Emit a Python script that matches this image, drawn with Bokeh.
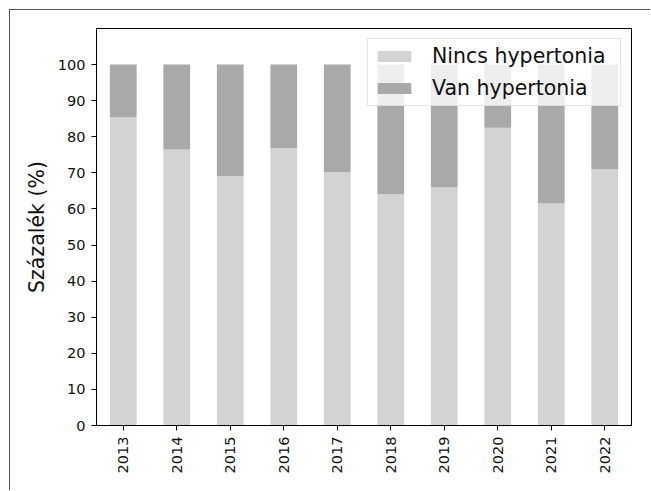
from bokeh.plotting import figure
from bokeh.models import FactorRange, Range1d, FixedTicker, Legend, LegendItem, ColumnDataSource
from bokeh.embed import file_html
from bokeh.resources import INLINE
import math

years = ["2013", "2014", "2015", "2016", "2017", "2018", "2019", "2020", "2021", "2022"]
nincs = [85.4, 76.5, 69.1, 76.8, 70.2, 64.1, 66.0, 82.5, 61.5, 71.1]
van = [14.6, 23.5, 30.9, 23.2, 29.8, 35.9, 34.0, 17.5, 38.5, 28.9]
series_names = ["Nincs hypertonia", "Van hypertonia"]
y_ticks = [0, 10, 20, 30, 40, 50, 60, 70, 80, 90, 100]

FONT = "DejaVu Sans"

source = ColumnDataSource(data=dict(year=years, nincs=nincs, van=van))

p = figure(
    x_range=FactorRange(*years, range_padding=0),
    y_range=Range1d(0, 110),
    width=641, height=481,
    output_backend="svg", toolbar_location=None,
    min_border_left=86, min_border_top=18, min_border_right=20, min_border_bottom=66,
)
p.styles = {"margin-left": "9px", "margin-top": "9px",
            "border-top": "1px solid #555555", "border-left": "1px solid #555555"}

r = p.vbar_stack(["nincs", "van"], x="year", width=0.5, source=source,
                 color=["#d3d3d3", "#a9a9a9"], line_color=None)

p.xgrid.visible = False
p.ygrid.visible = False
p.outline_line_color = "black"
p.outline_line_width = 1

for ax in (p.xaxis[0], p.yaxis[0]):
    ax.axis_line_color = "black"
    ax.major_tick_line_color = "black"
    ax.major_tick_out = 5
    ax.major_tick_in = 0
    ax.minor_tick_line_color = None
    ax.major_label_text_font = FONT
    ax.major_label_text_font_size = "14.5px"
    ax.major_label_text_color = "#111111"
    ax.major_label_standoff = 6

p.xaxis.major_label_orientation = math.pi / 2

p.yaxis.ticker = FixedTicker(ticks=y_ticks)
p.yaxis.axis_label = "Százalék (%)"
p.yaxis.axis_label_text_font = FONT
p.yaxis.axis_label_text_font_size = "20.5px"
p.yaxis.axis_label_text_font_style = "normal"
p.yaxis.axis_label_text_color = "#111111"
p.yaxis.axis_label_standoff = 6

legend = Legend(
    items=[LegendItem(label=series_names[0], renderers=[r[0]]),
           LegendItem(label=series_names[1], renderers=[r[1]])],
    location="top_right",
    margin=10,
    padding=5,
    spacing=8,
    glyph_width=42, glyph_height=14,
    label_standoff=17,
    label_width=183,
    label_text_font=FONT,
    label_text_font_size="20.5px",
    label_text_color="#111111",
    background_fill_color="white",
    background_fill_alpha=0.8,
    border_line_color="#cccccc",
    border_line_width=1,
)
p.add_layout(legend)

open("out.html", "w").write(file_html(p, INLINE))
